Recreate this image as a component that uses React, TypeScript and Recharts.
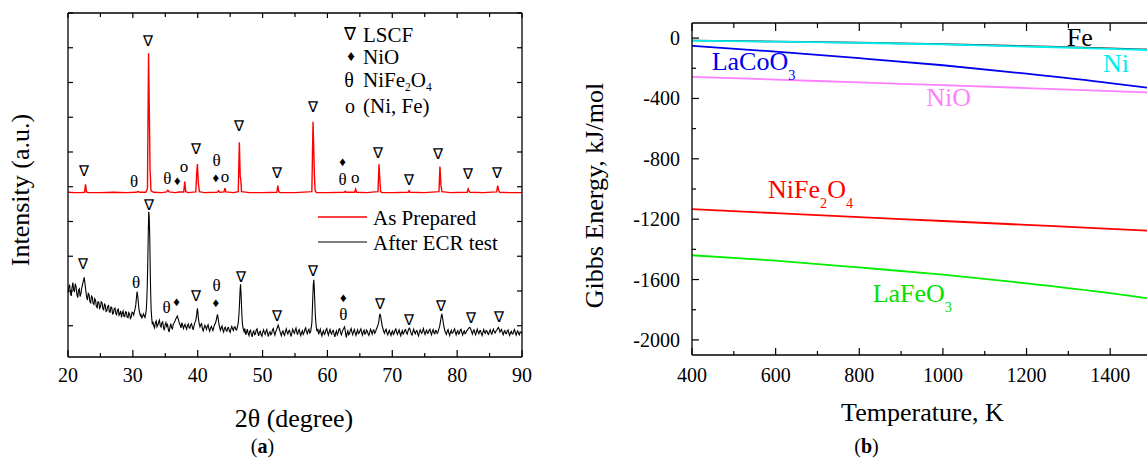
import React from 'react';
import { ComposedChart, Line, Scatter, XAxis, YAxis } from 'recharts';

const FONT = '"Liberation Serif", "Times New Roman", Times, serif';

// ---------------- Panel (a): XRD ----------------
const XRD_X_TICKS = [20, 25, 30, 35, 40, 45, 50, 55, 60, 65, 70, 75, 80, 85, 90];
const XRD_Y_TICKS = [0, 10, 20, 30, 40, 50, 60, 70, 80, 90];

// [2theta, intensity (a.u., offset)]
const AS_PREPARED: [number, number][] = [
  [20.0, 38.4], [21.0, 38.3], [22.0, 38.3], [22.55, 38.4], [22.7, 40.7], [22.85, 38.5], [23.1, 38.3],
  [25.0, 38.3], [27.0, 38.4], [29.0, 38.3], [30.5, 38.4], [30.8, 38.6], [31.1, 38.4], [32.0, 38.4],
  [32.25, 39.5], [32.42, 78.4], [32.55, 60.0], [32.65, 45.0], [32.8, 38.8], [33.2, 38.4], [34.5, 38.3],
  [35.2, 38.5], [35.4, 39.0], [35.6, 38.5], [36.5, 38.3], [37.2, 38.5], [37.85, 38.5], [38.0, 41.5],
  [38.15, 38.6], [38.5, 38.3], [39.7, 38.5], [39.85, 44.0], [39.95, 46.5], [40.1, 41.0], [40.25, 38.6],
  [41.0, 38.3], [43.0, 38.4], [43.2, 38.9], [43.4, 38.4], [44.05, 38.5], [44.2, 39.6], [44.35, 38.5],
  [45.5, 38.3], [46.25, 38.6], [46.42, 52.8], [46.55, 43.0], [46.65, 42.0], [46.75, 38.6], [48.0, 38.3],
  [50.0, 38.3], [52.2, 38.4], [52.35, 40.3], [52.5, 38.6], [52.7, 38.3], [55.0, 38.3], [57.6, 38.6],
  [57.78, 58.7], [57.9, 50.0], [57.98, 44.0], [58.1, 39.0], [58.3, 38.3], [60.0, 38.3], [62.6, 38.4],
  [62.75, 38.7], [62.9, 38.4], [64.2, 38.4], [64.35, 39.3], [64.5, 38.4], [66.0, 38.3], [67.8, 38.6],
  [67.95, 46.5], [68.08, 42.0], [68.2, 38.6], [68.4, 38.3], [70.0, 38.3], [72.45, 38.4], [72.6, 38.9],
  [72.75, 38.4], [75.0, 38.3], [77.2, 38.6], [77.35, 45.8], [77.5, 40.5], [77.65, 38.6], [79.0, 38.3],
  [81.55, 38.4], [81.7, 39.4], [81.85, 38.7], [82.0, 38.4], [84.0, 38.3], [86.1, 38.5], [86.25, 40.3],
  [86.4, 39.0], [86.55, 38.4], [88.0, 38.3], [90.0, 38.3],
];

const AFTER_ECR: [number, number][] = [
  [20.0, 9.5], [20.12, 11.0], [20.25, 11.8], [20.37, 9.4], [20.5, 8.6], [20.62, 10.9], [20.75, 12.4], [20.87, 10.2],
  [21.0, 9.9], [21.12, 12.1], [21.25, 11.2], [21.37, 9.0], [21.5, 8.1], [21.62, 10.2], [21.75, 10.6], [21.87, 8.4],
  [22.0, 9.3], [22.1, 10.7], [22.2, 11.5], [22.35, 12.8], [22.5, 13.9], [22.65, 11.6], [22.8, 9.2], [22.9, 8.0],
  [23.0, 7.4], [23.12, 9.3], [23.25, 8.9], [23.37, 6.9], [23.5, 6.6], [23.62, 8.5], [23.75, 8.2], [23.87, 6.4],
  [24.0, 6.1], [24.12, 7.8], [24.25, 7.3], [24.37, 5.6], [24.5, 5.2], [24.62, 6.9], [24.75, 6.8], [24.87, 5.0],
  [25.0, 5.4], [25.12, 6.9], [25.25, 6.6], [25.37, 4.9], [25.5, 4.6], [25.62, 6.2], [25.75, 5.9], [25.87, 4.1],
  [26.0, 4.3], [26.12, 5.6], [26.25, 5.8], [26.37, 4.0], [26.5, 3.9], [26.62, 5.4], [26.75, 5.2], [26.87, 3.4],
  [27.0, 3.6], [27.12, 4.9], [27.25, 5.1], [27.37, 3.5], [27.5, 3.2], [27.62, 4.5], [27.75, 4.8], [27.87, 3.0],
  [28.0, 3.5], [28.12, 4.3], [28.25, 2.4], [28.37, 3.6], [28.5, 4.2], [28.62, 2.7], [28.75, 2.6], [28.87, 4.0],
  [29.0, 3.9], [29.12, 2.5], [29.25, 2.3], [29.37, 3.8], [29.5, 3.4], [29.62, 2.1], [29.75, 2.5], [29.87, 3.9],
  [30.0, 3.7], [30.12, 3.1], [30.25, 4.2], [30.35, 4.9], [30.45, 6.0], [30.55, 8.0], [30.65, 9.8], [30.75, 8.6],
  [30.85, 6.5], [30.95, 4.6], [31.05, 3.8], [31.15, 2.9], [31.25, 3.2], [31.37, 2.3], [31.5, 2.6], [31.62, 3.4],
  [31.75, 2.9], [31.87, 2.4], [32.0, 3.6], [32.08, 4.8], [32.15, 7.5], [32.22, 11.5], [32.3, 18.0], [32.38, 27.0],
  [32.45, 32.8], [32.52, 31.5], [32.6, 26.0], [32.68, 16.0], [32.75, 9.0], [32.82, 4.6], [32.9, 2.4], [33.0, 0.4],
  [33.1, 1.2], [33.22, 0.0], [33.35, -0.6], [33.47, 0.9], [33.6, 1.4], [33.72, -0.3], [33.85, 0.2], [33.97, 1.0],
  [34.1, 1.6], [34.22, 0.1], [34.35, -0.4], [34.47, 0.8], [34.6, 1.1], [34.72, -0.5], [34.85, -1.3], [34.97, 0.2],
  [35.1, 0.9], [35.22, -0.2], [35.35, 0.3], [35.47, -1.1], [35.6, -1.8], [35.72, -0.4], [35.85, 0.6], [35.97, -0.6],
  [36.1, -0.9], [36.22, 0.4], [36.35, 0.8], [36.47, 1.2], [36.6, 1.9], [36.72, 2.3], [36.85, 2.8], [36.95, 2.2],
  [37.05, 1.6], [37.17, 0.6], [37.3, 0.2], [37.42, -0.6], [37.55, 0.9], [37.67, 0.2], [37.8, -0.8], [37.92, -0.1],
  [38.05, 0.4], [38.17, -0.4], [38.3, -1.0], [38.42, 0.1], [38.55, 0.5], [38.67, -0.5], [38.8, -0.7], [38.92, 0.3],
  [39.05, 0.6], [39.17, -0.4], [39.3, -1.2], [39.42, -0.1], [39.55, 0.9], [39.67, 1.3], [39.8, 2.6], [39.88, 3.9],
  [39.95, 5.0], [40.02, 4.1], [40.1, 2.2], [40.22, 0.7], [40.35, -0.3], [40.47, 0.3], [40.6, 0.6], [40.72, -0.8],
  [40.85, -1.5], [40.97, -0.6], [41.1, 0.1], [41.22, -0.3], [41.35, -1.1], [41.47, -0.2], [41.6, 0.3], [41.72, -0.9],
  [41.85, -1.6], [41.97, -0.7], [42.1, -0.2], [42.22, -0.8], [42.35, -1.4], [42.47, -0.5], [42.6, 0.4], [42.72, 0.6],
  [42.85, 1.5], [42.95, 2.5], [43.05, 3.3], [43.15, 2.1], [43.25, 0.8], [43.37, -0.4], [43.5, -1.3], [43.62, -0.6],
  [43.75, -0.1], [43.87, -1.2], [44.0, -1.8], [44.12, -0.7], [44.25, -0.4], [44.37, -1.3], [44.5, -1.6], [44.62, -0.6],
  [44.75, -0.5], [44.87, -1.4], [45.0, -1.9], [45.12, -0.9], [45.25, -0.2], [45.37, -0.9], [45.5, -1.4], [45.62, -0.4],
  [45.75, -0.3], [45.87, -1.1], [46.0, -1.2], [46.12, -0.3], [46.25, 0.8], [46.35, 3.0], [46.45, 6.5], [46.52, 9.8],
  [46.6, 11.9], [46.67, 9.6], [46.75, 6.0], [46.82, 2.8], [46.9, 0.4], [47.02, -0.9], [47.15, -1.7], [47.27, -0.8],
  [47.4, -2.6], [47.52, -1.9], [47.65, -1.0], [47.77, -2.2], [47.9, -2.8], [48.02, -1.6], [48.15, -1.3], [48.27, -2.5],
  [48.4, -3.2], [48.52, -1.9], [48.65, -1.5], [48.77, -2.6], [48.9, -2.4], [49.02, -1.2], [49.15, -0.9], [49.27, -2.1],
  [49.4, -2.9], [49.52, -1.8], [49.65, -1.6], [49.77, -2.6], [49.9, -3.0], [50.02, -1.9], [50.15, -1.2], [50.27, -2.0],
  [50.4, -2.5], [50.52, -1.6], [50.65, -1.1], [50.77, -2.3], [50.9, -3.1], [51.02, -2.0], [51.15, -1.7], [51.27, -2.6],
  [51.4, -2.3], [51.52, -1.2], [51.65, -0.8], [51.77, -1.9], [51.9, -2.7], [52.02, -1.8], [52.15, -1.2], [52.27, -0.6],
  [52.4, 0.2], [52.52, -0.5], [52.65, -1.4], [52.77, -2.2], [52.9, -2.9], [53.02, -1.9], [53.15, -1.5], [53.27, -2.4],
  [53.4, -2.8], [53.52, -1.7], [53.65, -0.9], [53.77, -1.8], [53.9, -2.4], [54.02, -1.5], [54.15, -1.3], [54.27, -2.2],
  [54.4, -3.1], [54.52, -2.0], [54.65, -1.0], [54.77, -1.7], [54.9, -2.2], [55.02, -1.4], [55.15, -0.7], [55.27, -1.8],
  [55.4, -2.6], [55.52, -1.5], [55.65, -1.1], [55.77, -2.1], [55.9, -2.8], [56.02, -1.9], [56.15, -1.4], [56.27, -2.5],
  [56.4, -2.0], [56.52, -1.1], [56.65, -0.6], [56.77, -1.7], [56.9, -2.3], [57.02, -1.5], [57.15, -1.0], [57.27, -2.1],
  [57.4, -1.8], [57.5, -0.6], [57.6, 0.8], [57.67, 4.2], [57.75, 8.5], [57.82, 11.8], [57.9, 13.2], [57.97, 11.0],
  [58.05, 7.0], [58.12, 3.5], [58.2, 1.2], [58.3, -0.6], [58.4, -1.6], [58.52, -0.9], [58.65, -2.5], [58.77, -1.7],
  [58.9, -1.0], [59.02, -2.1], [59.15, -2.9], [59.27, -1.9], [59.4, -1.4], [59.52, -2.5], [59.65, -2.2], [59.77, -1.2],
  [59.9, -0.8], [60.02, -1.9], [60.15, -2.7], [60.27, -1.8], [60.4, -1.1], [60.52, -2.0], [60.65, -2.4], [60.77, -1.5],
  [60.9, -1.3], [61.02, -2.4], [61.15, -3.2], [61.27, -2.1], [61.4, -1.5], [61.52, -2.6], [61.65, -2.0], [61.77, -1.0],
  [61.9, -0.9], [62.02, -2.0], [62.15, -2.6], [62.27, -1.8], [62.4, -1.2], [62.52, -0.7], [62.65, -0.3], [62.77, -1.8],
  [62.9, -3.4], [63.02, -2.2], [63.15, -1.5], [63.27, -2.6], [63.4, -2.3], [63.52, -1.4], [63.65, -0.8], [63.77, -1.8],
  [63.9, -2.6], [64.02, -1.7], [64.15, -1.1], [64.27, -2.0], [64.4, -2.8], [64.52, -1.9], [64.65, -1.2], [64.77, -2.3],
  [64.9, -2.1], [65.02, -1.4], [65.15, -0.9], [65.27, -1.9], [65.4, -2.7], [65.52, -1.8], [65.65, -1.3], [65.77, -2.4],
  [65.9, -2.2], [66.02, -1.2], [66.15, -1.6], [66.27, -2.3], [66.4, -2.8], [66.52, -1.9], [66.65, -1.0], [66.77, -1.6],
  [66.9, -2.4], [67.02, -1.5], [67.15, -1.2], [67.27, -2.2], [67.4, -1.9], [67.52, -1.1], [67.65, -0.6], [67.77, 0.1],
  [67.9, 0.9], [68.0, 2.4], [68.1, 3.4], [68.2, 2.8], [68.3, 1.6], [68.42, 0.2], [68.55, -0.8], [68.67, -1.6],
  [68.8, -2.2], [68.92, -1.4], [69.05, -1.0], [69.17, -2.0], [69.3, -2.6], [69.42, -1.8], [69.55, -1.3], [69.67, -2.2],
  [69.8, -2.8], [69.92, -1.9], [70.05, -1.5], [70.17, -2.5], [70.3, -2.2], [70.42, -1.3], [70.55, -0.9], [70.67, -1.9],
  [70.8, -2.5], [70.92, -1.8], [71.05, -1.2], [71.17, -2.1], [71.3, -2.9], [71.42, -2.0], [71.55, -1.4], [71.67, -2.4],
  [71.8, -2.0], [71.92, -1.3], [72.05, -1.1], [72.17, -2.0], [72.3, -2.4], [72.42, -1.6], [72.55, -0.9], [72.67, -0.7],
  [72.8, -1.5], [72.92, -2.3], [73.05, -2.7], [73.17, -1.8], [73.3, -1.0], [73.42, -1.8], [73.55, -2.3], [73.67, -1.6],
  [73.8, -1.4], [73.92, -2.3], [74.05, -2.9], [74.17, -1.9], [74.3, -1.2], [74.42, -1.8], [74.55, -2.2], [74.67, -1.5],
  [74.8, -0.8], [74.92, -1.8], [75.05, -2.5], [75.17, -1.7], [75.3, -1.3], [75.42, -2.2], [75.55, -2.1], [75.67, -1.3],
  [75.8, -1.0], [75.92, -1.9], [76.05, -2.6], [76.17, -1.7], [76.3, -1.1], [76.42, -2.0], [76.55, -2.3], [76.67, -1.4],
  [76.8, -1.5], [76.92, -2.2], [77.05, -1.8], [77.17, -1.0], [77.3, -0.2], [77.4, 0.9], [77.5, 2.0], [77.57, 2.9],
  [77.65, 3.4], [77.75, 2.3], [77.85, 1.0], [77.97, -0.3], [78.1, -1.4], [78.22, -2.0], [78.35, -2.5], [78.47, -1.6],
  [78.6, -1.1], [78.72, -2.1], [78.85, -2.8], [78.97, -1.9], [79.1, -1.3], [79.22, -2.2], [79.35, -2.0], [79.47, -1.4],
  [79.6, -0.9], [79.72, -1.8], [79.85, -2.6], [79.97, -1.8], [80.1, -1.4], [80.22, -2.4], [80.35, -2.2], [80.47, -1.3],
  [80.6, -1.0], [80.72, -1.9], [80.85, -2.7], [80.97, -1.9], [81.1, -1.5], [81.22, -2.3], [81.35, -2.1], [81.47, -1.4],
  [81.6, -1.3], [81.72, -0.8], [81.85, -0.6], [81.97, -0.5], [82.1, -0.9], [82.22, -1.7], [82.35, -2.4], [82.47, -1.6],
  [82.6, -1.2], [82.72, -2.0], [82.85, -2.6], [82.97, -1.7], [83.1, -1.0], [83.22, -1.8], [83.35, -2.3], [83.47, -1.5],
  [83.6, -1.4], [83.72, -2.2], [83.85, -2.8], [83.97, -1.9], [84.1, -1.1], [84.22, -1.9], [84.35, -2.2], [84.47, -1.4],
  [84.6, -1.5], [84.72, -2.3], [84.85, -2.5], [84.97, -1.7], [85.1, -1.2], [85.22, -2.0], [85.35, -2.4], [85.47, -1.6],
  [85.6, -1.0], [85.72, -1.7], [85.85, -2.1], [85.97, -1.6], [86.1, -1.3], [86.22, -0.9], [86.35, -0.5], [86.47, -1.0],
  [86.6, -1.8], [86.72, -1.4], [86.85, -1.1], [86.97, -2.0], [87.1, -2.6], [87.22, -1.8], [87.35, -1.4], [87.47, -2.2],
  [87.6, -2.3], [87.72, -1.5], [87.85, -1.2], [87.97, -2.1], [88.1, -2.8], [88.22, -2.0], [88.35, -1.6], [88.47, -2.3],
  [88.6, -2.4], [88.72, -1.6], [88.85, -1.1], [88.97, -2.0], [89.1, -2.7], [89.22, -1.9], [89.35, -1.5], [89.47, -2.2],
  [89.6, -2.6], [89.72, -1.8], [89.85, -1.9], [90.0, -2.2],
];

// phase markers: [2theta, height, glyph]
const AS_PREPARED_MARKS: [number, number, string][] = [
  [22.5, 44.5, '∇'], [30.2, 41.7, 'θ'], [32.4, 81.9, '∇'], [35.3, 42.6, 'θ'], [36.85, 41.7, '♦'],
  [37.9, 45.3, 'o'], [39.7, 50.9, '∇'], [42.9, 47.7, 'θ'], [42.8, 42.6, '♦'], [44.2, 42.4, 'o'],
  [46.4, 57.5, '∇'], [52.3, 43.8, '∇'], [57.8, 63.0, '∇'], [62.35, 47.2, '♦'], [62.35, 42.2, 'θ'],
  [64.3, 42.1, 'o'], [67.75, 49.6, '∇'], [72.6, 41.9, '∇'], [77.0, 49.3, '∇'], [81.7, 43.6, '∇'],
  [86.2, 44.0, '∇'],
];
const AFTER_ECR_MARKS: [number, number, string][] = [
  [22.3, 17.8, '∇'], [30.5, 12.7, 'θ'], [32.5, 34.7, '∇'], [35.2, 5.5, 'θ'], [36.75, 6.8, '♦'],
  [39.8, 8.6, '∇'], [42.9, 11.7, 'θ'], [42.8, 6.5, '♦'], [46.65, 13.9, '∇'], [52.3, 2.8, '∇'],
  [57.85, 15.8, '∇'], [62.45, 8.1, '♦'], [62.45, 3.3, 'θ'], [68.1, 6.3, '∇'], [72.6, 1.5, '∇'],
  [77.5, 5.7, '∇'], [82.1, 2.1, '∇'], [86.45, 2.4, '∇'],
];

// ---------------- Panel (b): Gibbs energy ----------------
const TEMPS = [400, 600, 800, 1000, 1200, 1400, 1500];
const G_FE = [-16, -23, -30, -40, -53, -67, -76];
const G_NI = [-17, -24, -32, -42, -56, -71, -80];
const G_LACOO3 = [-51, -90, -133, -180, -236, -298, -333];
const G_NIO = [-257, -275, -294, -312, -331, -351, -361];
const G_NIFE2O4 = [-1134, -1160, -1186, -1212, -1238, -1264, -1277];
const G_LAFEO3 = [-1439, -1475, -1520, -1568, -1625, -1690, -1728];
const T_TICKS = [400, 500, 600, 700, 800, 900, 1000, 1100, 1200, 1300, 1400, 1500];
const G_TICKS = [-2000, -1800, -1600, -1400, -1200, -1000, -800, -600, -400, -200, 0];

// inline curve labels: [T, G, text]
const CURVE_LABELS: [number, number, string][] = [
  [1296, -52, 'Fe'], [1383, -225, 'Ni'], [447, -211, 'LaCoO3'], [960, -450, 'NiO'],
  [582, -1060, 'NiFe2O4'], [832, -1747, 'LaFeO3'],
];
const LABEL_COLORS: Record<string, string> = {
  Fe: '#000000', Ni: '#00eeee', LaCoO3: '#0000ee', NiO: '#ff80ff', NiFe2O4: '#ff0000', LaFeO3: '#00e000',
};

const redData = AS_PREPARED.map(([x, y]) => ({ x, y }));
const blackData = AFTER_ECR.map(([x, y]) => ({ x, y }));
const redMarks = AS_PREPARED_MARKS.map(([x, y, s]) => ({ x, y, s }));
const blackMarks = AFTER_ECR_MARKS.map(([x, y, s]) => ({ x, y, s }));
const gibbsData = TEMPS.map((t, i) => ({
  x: t, fe: G_FE[i], ni: G_NI[i], lacoo3: G_LACOO3[i], nio: G_NIO[i], nife2o4: G_NIFE2O4[i], lafeo3: G_LAFEO3[i],
}));
const curveLabels = CURVE_LABELS.map(([x, y, t]) => ({ x, y, t }));

type Side = 'bottom' | 'top' | 'left' | 'right';
function makeTick(side: Side, majorEvery: number, majorLen: number, minorLen: number, showLabels: boolean, labelOffset: number) {
  return (props: any) => {
    const { x, y, payload } = props;
    const v = payload.value;
    const major = Math.abs(v % majorEvery) < 1e-6;
    const len = major ? majorLen : minorLen;
    let x2 = x;
    let y2 = y;
    if (side === 'bottom') y2 = y - len;
    else if (side === 'top') y2 = y + len;
    else if (side === 'left') x2 = x + len;
    else x2 = x - len;
    let label: any = null;
    if (showLabels && major) {
      if (side === 'bottom') {
        label = (
          <text x={x} y={y + labelOffset} textAnchor="middle" fontSize={20} fontFamily={FONT} fill="#000">{String(v)}</text>
        );
      } else if (side === 'left') {
        label = (
          <text x={x - labelOffset} y={y} dy="0.35em" textAnchor="end" fontSize={20} fontFamily={FONT} fill="#000">{String(v)}</text>
        );
      }
    }
    return (
      <g>
        <line x1={x} y1={y} x2={x2} y2={y2} stroke="#000" strokeWidth={1.2} />
        {label}
      </g>
    );
  };
}

const GLYPH_DY: Record<string, string> = { '∇': '0.33em', 'θ': '0.36em', '♦': '0.32em', 'o': '0.22em' };
const GLYPH_SIZE: Record<string, number> = { '∇': 15, 'θ': 17, '♦': 13, 'o': 17 };

const MarkShape = (props: any) => {
  const { cx, cy, payload } = props;
  const s = payload.s;
  return (
    <text x={cx} y={cy} dy={GLYPH_DY[s]} textAnchor="middle" fontSize={GLYPH_SIZE[s]} fontFamily={FONT} fill="#000">{s}</text>
  );
};

function Formula({ x, y, text, fill, size, anchor, subShift }: any) {
  const parts: string[] = text.match(/[0-9]+|[^0-9]+/g) || [];
  let sub = false;
  const off = size * (subShift || 0.38);
  return (
    <text x={x} y={y} fill={fill} fontSize={size} fontFamily={FONT} textAnchor={anchor || 'start'}>
      {parts.map((p, i) => {
        const isSub = /^[0-9]/.test(p);
        const dy = isSub && !sub ? off : !isSub && sub ? -off : 0;
        sub = isSub;
        return (
          <tspan key={i} dy={dy} fontSize={isSub ? size * 0.55 : size}>{p}</tspan>
        );
      })}
    </text>
  );
}

const CurveLabelShape = (props: any) => {
  const { cx, cy, payload } = props;
  return <Formula x={cx} y={cy} text={payload.t} fill={LABEL_COLORS[payload.t]} size={26} />;
};

const axisLine = { stroke: '#000', strokeWidth: 1.3 };

function XrdPanel() {
  return (
    <ComposedChart width={540} height={459} margin={{ top: 12, right: 17, bottom: 101, left: 67 }}>
      <XAxis xAxisId="b" type="number" dataKey="x" domain={[20, 90]} ticks={XRD_X_TICKS} interval={0}
        height={1} tickSize={0} tickMargin={0} tickLine={false} axisLine={axisLine} allowDataOverflow
        tick={makeTick('bottom', 10, 7, 4, true, 25)} />
      <XAxis xAxisId="t" orientation="top" type="number" dataKey="x" domain={[20, 90]} ticks={XRD_X_TICKS} interval={0}
        height={1} tickSize={0} tickMargin={0} tickLine={false} axisLine={axisLine} allowDataOverflow
        tick={makeTick('top', 10, 5, 4, false, 0)} />
      <YAxis yAxisId="l" type="number" dataKey="y" domain={[-9, 90]} ticks={XRD_Y_TICKS} interval={0}
        width={1} tickSize={0} tickMargin={0} tickLine={false} axisLine={axisLine} allowDataOverflow
        tick={makeTick('left', 10, 5, 5, false, 0)} />
      <YAxis yAxisId="r" orientation="right" type="number" dataKey="y" domain={[-9, 90]} ticks={XRD_Y_TICKS} interval={0}
        width={1} tickSize={0} tickMargin={0} tickLine={false} axisLine={axisLine} allowDataOverflow
        tick={makeTick('right', 10, 5, 5, false, 0)} />
      <Line xAxisId="b" yAxisId="l" data={redData} dataKey="y" type="linear" stroke="#ff0000" strokeWidth={1.4}
        dot={false} activeDot={false} isAnimationActive={false} />
      <Line xAxisId="b" yAxisId="l" data={blackData} dataKey="y" type="linear" stroke="#000" strokeWidth={1.1}
        dot={false} activeDot={false} isAnimationActive={false} />
      <Scatter xAxisId="b" yAxisId="l" data={redMarks} dataKey="y" shape={MarkShape} isAnimationActive={false} />
      <Scatter xAxisId="b" yAxisId="l" data={blackMarks} dataKey="y" shape={MarkShape} isAnimationActive={false} />
    </ComposedChart>
  );
}

function GibbsPanel() {
  return (
    <ComposedChart width={620} height={459} data={gibbsData} margin={{ top: 22, right: 28, bottom: 103, left: 131 }}>
      <XAxis xAxisId="b" type="number" dataKey="x" domain={[400, 1500]} ticks={T_TICKS} interval={0}
        height={1} tickSize={0} tickMargin={0} tickLine={false} axisLine={axisLine} allowDataOverflow
        tick={makeTick('bottom', 200, 7, 4, true, 27)} />
      <XAxis xAxisId="t" orientation="top" type="number" dataKey="x" domain={[400, 1500]} ticks={T_TICKS} interval={0}
        height={1} tickSize={0} tickMargin={0} tickLine={false} axisLine={axisLine} allowDataOverflow
        tick={makeTick('top', 200, 8, 5, false, 0)} />
      <YAxis yAxisId="l" type="number" domain={[-2100, 100]} ticks={G_TICKS} interval={0}
        width={1} tickSize={0} tickMargin={0} tickLine={false} axisLine={axisLine} allowDataOverflow
        tick={makeTick('left', 400, 7, 4, true, 12)} />
      <Line xAxisId="b" yAxisId="l" dataKey="fe" type="monotone" stroke="#333" strokeWidth={1.6} dot={false} activeDot={false} isAnimationActive={false} />
      <Line xAxisId="b" yAxisId="l" dataKey="ni" type="monotone" stroke="#00eeee" strokeWidth={1.8} dot={false} activeDot={false} isAnimationActive={false} />
      <Line xAxisId="b" yAxisId="l" dataKey="lacoo3" type="monotone" stroke="#0000ee" strokeWidth={1.8} dot={false} activeDot={false} isAnimationActive={false} />
      <Line xAxisId="b" yAxisId="l" dataKey="nio" type="monotone" stroke="#ff80ff" strokeWidth={1.8} dot={false} activeDot={false} isAnimationActive={false} />
      <Line xAxisId="b" yAxisId="l" dataKey="nife2o4" type="monotone" stroke="#ff0000" strokeWidth={1.8} dot={false} activeDot={false} isAnimationActive={false} />
      <Line xAxisId="b" yAxisId="l" dataKey="lafeo3" type="monotone" stroke="#00ee00" strokeWidth={1.8} dot={false} activeDot={false} isAnimationActive={false} />
      <Scatter xAxisId="b" yAxisId="l" data={curveLabels} dataKey="y" shape={CurveLabelShape} isAnimationActive={false} />
    </ComposedChart>
  );
}

function Overlay() {
  const t = { fontFamily: FONT, fill: '#000' } as any;
  return (
    <svg width={1147} height={459} style={{ position: 'absolute', left: 0, top: 0, pointerEvents: 'none' }}>
      {/* panel (a) titles */}
      <text {...t} fontSize={26} textAnchor="middle" transform="translate(29,190) rotate(-90)">Intensity (a.u.)</text>
      <text {...t} fontSize={26} textAnchor="middle" x={294} y={427}>2θ (degree)</text>
      <text {...t} fontSize={20} textAnchor="middle" x={262.5} y={453}>(<tspan fontWeight="bold">a</tspan>)</text>
      {/* symbol legend */}
      <text {...t} fontSize={18} textAnchor="middle" x={350} y={40}>∇</text>
      <text {...t} fontSize={21} x={363} y={41.5}>LSCF</text>
      <text {...t} fontSize={15} textAnchor="middle" x={351} y={61}>♦</text>
      <text {...t} fontSize={21} x={363} y={64}>NiO</text>
      <text {...t} fontSize={20} textAnchor="middle" x={349} y={87}>θ</text>
      <Formula x={363} y={87} text="NiFe2O4" fill="#000" size={21} subShift={0.2} />
      <text {...t} fontSize={20} textAnchor="middle" x={350} y={113}>o</text>
      <text {...t} fontSize={21} x={363} y={113}>(Ni, Fe)</text>
      {/* series legend */}
      <line x1={318} y1={217} x2={367} y2={217} stroke="#ff0000" strokeWidth={1.4} />
      <text {...t} fontSize={21} x={373} y={224.5}>As Prepared</text>
      <line x1={318} y1={242} x2={367} y2={242} stroke="#000" strokeWidth={1.2} />
      <text {...t} fontSize={21} x={373} y={249.5}>After ECR test</text>
      {/* panel (b) titles */}
      <text {...t} fontSize={26} textAnchor="middle" transform="translate(603,195.5) rotate(-90)">Gibbs Energy, kJ/mol</text>
      <text {...t} fontSize={26} textAnchor="middle" x={922.5} y={421}>Temperature, K</text>
      <text {...t} fontSize={20} textAnchor="middle" x={866.5} y={453}>(<tspan fontWeight="bold">b</tspan>)</text>
    </svg>
  );
}

export default function App() {
  return (
    <div style={{ position: 'absolute', left: 0, top: 0, width: 1147, height: 459, overflow: 'hidden', background: '#fff', fontFamily: FONT }}>
      <div style={{ position: 'absolute', left: 0, top: 0 }}>
        <XrdPanel />
      </div>
      <div style={{ position: 'absolute', left: 560, top: 0 }}>
        <GibbsPanel />
      </div>
      <Overlay />
    </div>
  );
}
